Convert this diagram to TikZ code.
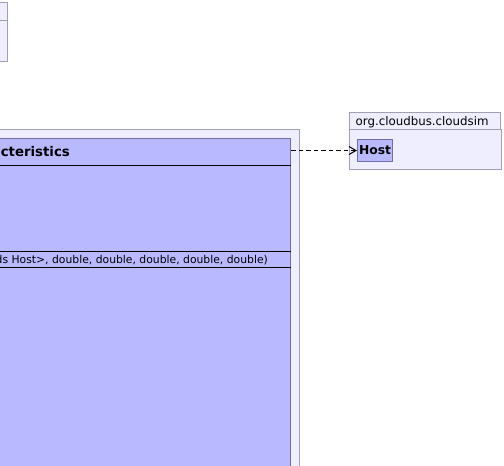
\documentclass[tikz,border=0pt]{standalone}
\usepackage{fontspec}
\setmainfont{DejaVu Sans}
\usetikzlibrary{arrows.meta}

\definecolor{pkgfill}{RGB}{238,238,255}
\definecolor{pkgline}{RGB}{160,160,180}
\definecolor{clsfill}{RGB}{185,185,255}
\definecolor{clsline}{RGB}{112,112,165}

\begin{document}
\begin{tikzpicture}[x=1pt, y=-1pt, >={Straight Barb[length=7pt,width=8pt]},
    pkg/.style={draw=pkgline, fill=pkgfill, line width=1pt},
    cls/.style={draw=clsline, fill=clsfill, line width=1pt, inner sep=0pt},
    txt/.style={inner sep=0pt, font=\fontsize{10.8}{13}\selectfont},
    ttl/.style={inner sep=0pt, font=\fontsize{13.3}{15}\selectfont\bfseries}]
    \useasboundingbox[fill=white] (0,0) rectangle (504,466);
    \clip (0,0) rectangle (504,466);

    % package cut off at the left edge
    \draw[pkg] (-60,2) rectangle (7,20);
    \draw[pkg] (-60,20) rectangle (7,61);

    % package with the characteristics class
    \draw[pkg] (-400,129) rectangle (299,520);
    \node[cls, anchor=north east, minimum width=640pt, minimum height=380pt] (dcc) at (291,138) {};
    \foreach \dy in {27,113,129} {
        \draw[line width=1pt] ([yshift=-\dy pt]dcc.north west) -- ([yshift=-\dy pt]dcc.north east);
    }
    \node[ttl, anchor=base east] (dcctitle) at (70,156.5) {DatacenterCharacteristics};
    \node[txt, anchor=base east] (dccop) at (268,263)
        {+DatacenterCharacteristics(String, String, String, List<? extends Host>, double, double, double, double, double)};

    % org.cloudbus.cloudsim
    \draw[pkg] (349,112) rectangle (500,129);
    \draw[pkg] (349,129) rectangle (501,169);
    \node[inner sep=0pt, anchor=base west, font=\fontsize{11.8}{14}\selectfont] (simname) at (355.5,125.5) {org.cloudbus.cloudsim};
    \node[cls, anchor=north west, minimum width=35pt, minimum height=22pt,
        font=\fontsize{12.3}{14}\selectfont\bfseries] (host) at (357,139) {Host};

    \draw[->, line width=1pt, dash pattern=on 4.5pt off 3pt] (dcc.east |- host.west) -- (host.west);
\end{tikzpicture}
\end{document}
